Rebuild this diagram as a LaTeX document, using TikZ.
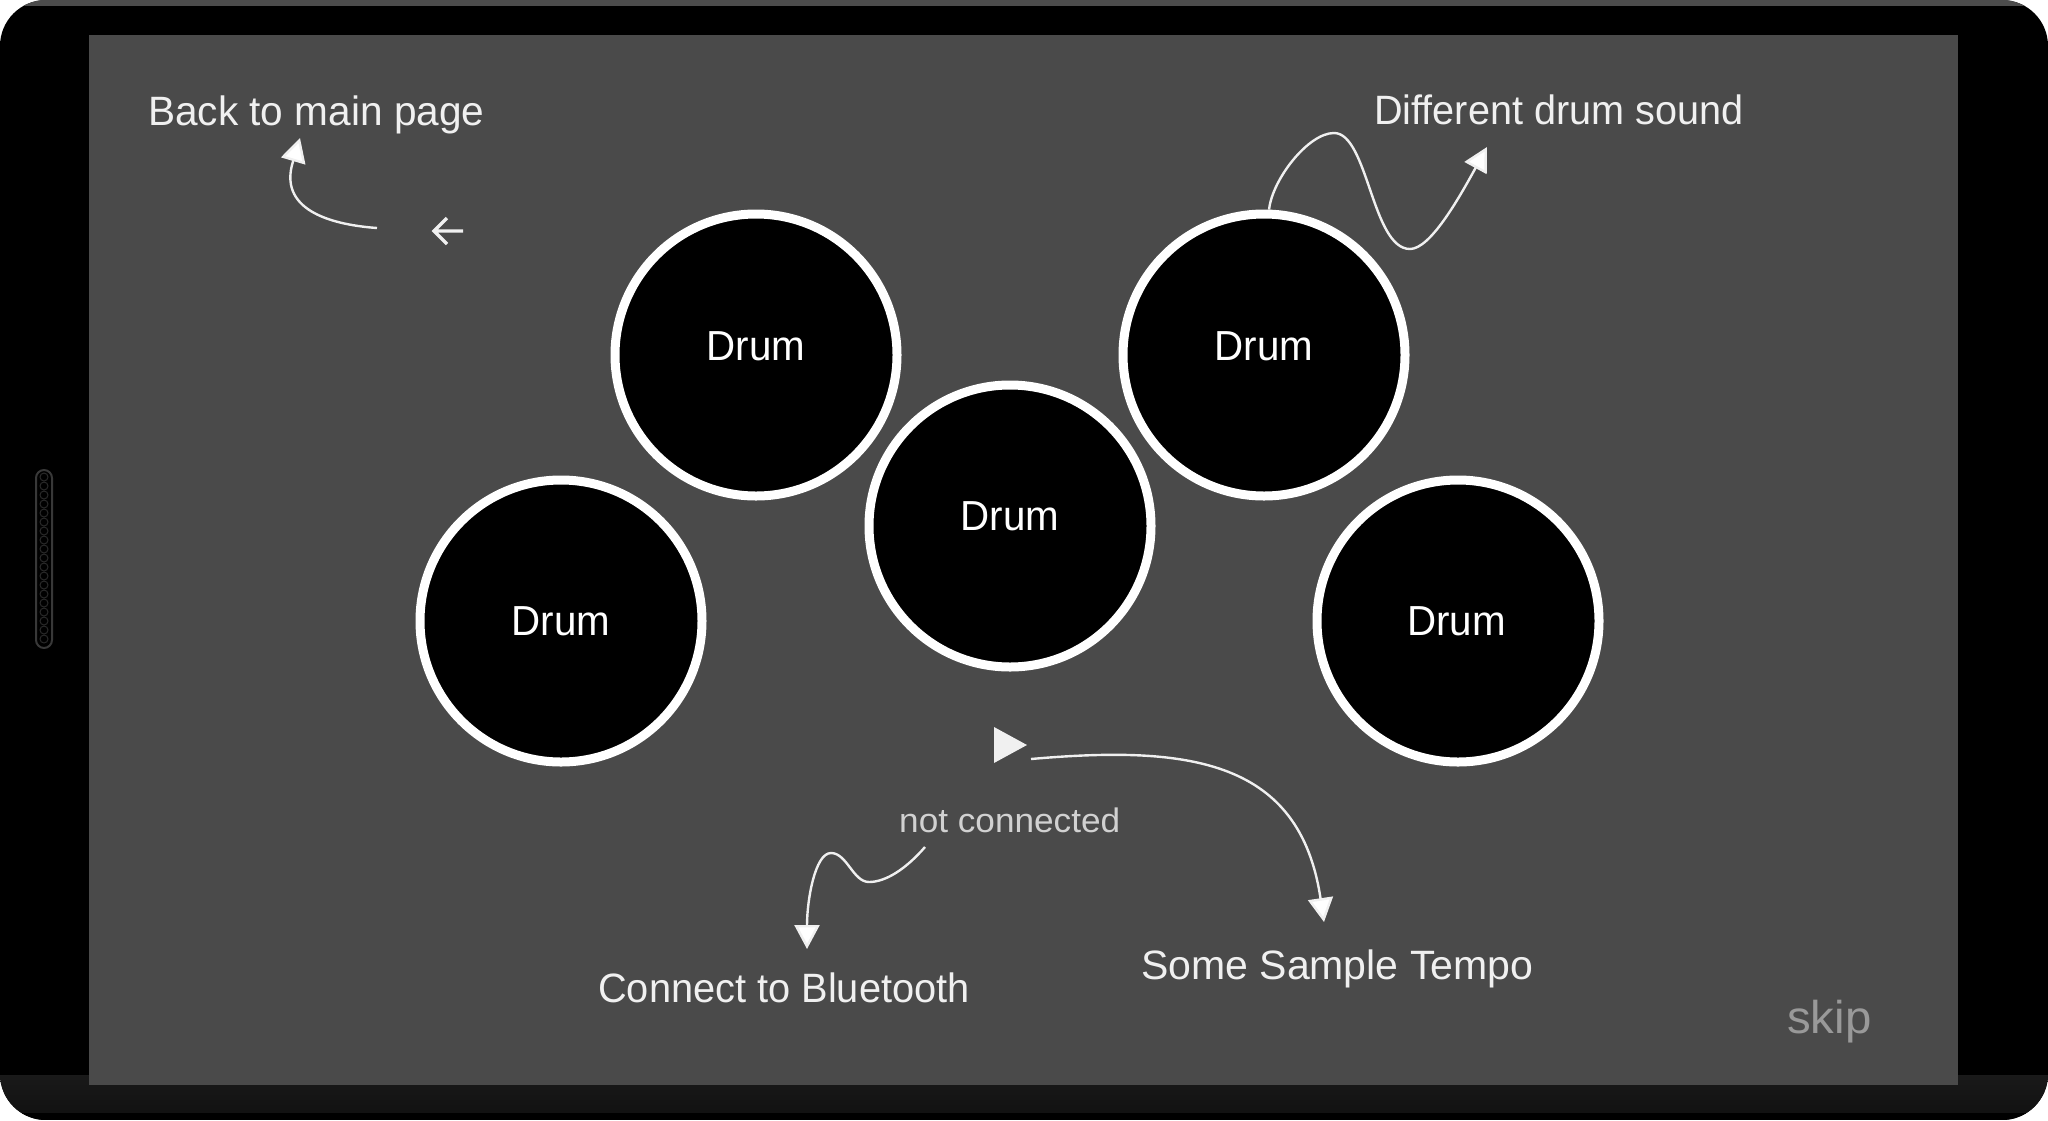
\documentclass[tikz,border=0pt]{standalone}
\usepackage{fontspec}
\setmainfont{Liberation Sans}
\usetikzlibrary{arrows.meta}
\definecolor{screen}{HTML}{4A4A4A}
\definecolor{ink}{HTML}{F0F0F0}
\tikzset{
  x=1pt,y=-1pt,
  drumdisc/.style={circle,draw=white,fill=black,line width=9pt,minimum size=282pt,inner sep=0pt,text=white,font=\fontsize{42}{42}\selectfont},
  caption/.style={anchor=base west,inner sep=0pt,text=ink,font=\fontsize{41}{41}\selectfont},
  pointer/.style={draw=ink,line width=2.4pt,-{Triangle[length=24pt,width=25pt,fill=white]},shorten >=0pt},
}
\begin{document}
\begin{tikzpicture}
\useasboundingbox (0,0) rectangle (2048,1120);
\fill[white] (0,0) rectangle (2048,1120);
% device body
\begin{scope}
\clip[rounded corners=46pt] (0,0) rectangle (2048,1120);
\fill[black] (0,0) rectangle (2048,1120);
\fill[black!70!white] (0,0) rectangle (2048,6);
\shade[top color=black!90!white,bottom color=black!93!white] (0,1075) rectangle (2048,1113);
\fill[black] (0,1113) rectangle (2048,1120);
\end{scope}
% speaker
\draw[black!78!white,line width=2pt,rounded corners=8pt] (36,470) rectangle (52,648);
\foreach \k in {0,...,18}{\draw[black!84!white,line width=1pt] (44,477+9*\k) circle (4);}
% screen
\fill[screen] (89,35) rectangle (1958,1085);
% drums
\node[drumdisc] (d1) at (561,621) {\scalebox{.96}[1]{Drum}};
\node[drumdisc] (d2) at (756,355) {\raisebox{17pt}{\scalebox{.96}[1]{Drum}}};
\node[drumdisc] (d3) at (1010,526) {\raisebox{19pt}{\scalebox{.96}[1]{Drum}}};
\node[drumdisc] (d4) at (1264,355) {\raisebox{17pt}{\scalebox{.96}[1]{Drum}}};
\node[drumdisc] (d5) at (1458,621) {\hspace*{-3pt}\scalebox{.96}[1]{Drum}};
% captions
\node[caption] (back) at (148,125) {\scalebox{.99}[1]{Back to main page}};
\node[caption] (diff) at (1374,124) {\scalebox{.966}[1]{Different drum sound}};
\node[caption] (blue) at (598,1002) {\scalebox{.97}[1]{Connect to Bluetooth}};
\node[caption] (temp) at (1141,979) {Some Sample Tempo};
\node[caption,text=black!18!white,font=\fontsize{34}{34}\selectfont] (conn) at (899,832) {\scalebox{1.035}[1]{not connected}};
\node[caption,text=black!40!white,font=\fontsize{46}{46}\selectfont] (skip) at (1787,1033) {\scalebox{1.03}[1]{skip}};
% icons
\coordinate (backR) at (463,231);
\coordinate (backL) at (434,231);
\draw[ink,line width=3.2pt] (backR) -- (backL) (447,218) -- (backL) -- (447,244);
\fill[ink] (994,727) -- (1027,745) -- (994,763) -- cycle;
\coordinate (playR) at (1031,759);
% connectors
\coordinate (backStart) at (377,228);
\coordinate (backTip) at (300,138);
\draw[pointer] (backStart) .. controls (335,225) and (280,212) .. (292,165) -- (backTip);
\coordinate (diffTip) at (1487,147);
\draw[pointer] (d4.88) .. controls (1272,180) and (1308,133) .. (1334,133) .. controls (1368,133) and (1372,249) .. (1410,249) .. controls (1430,249) and (1458,200) .. (diffTip);
\coordinate (connStart) at (925,847);
\coordinate (blueTip) at (807,949);
\draw[pointer] (connStart) .. controls (905,870) and (885,882) .. (869,882) .. controls (853,882) and (847,853) .. (831,853) .. controls (815,853) and (807,900) .. (blueTip);
\coordinate (tempTip) at (1324,922);
\draw[pointer] (playR) .. controls (1190,745) and (1300,760) .. (tempTip);
\end{tikzpicture}
\end{document}
